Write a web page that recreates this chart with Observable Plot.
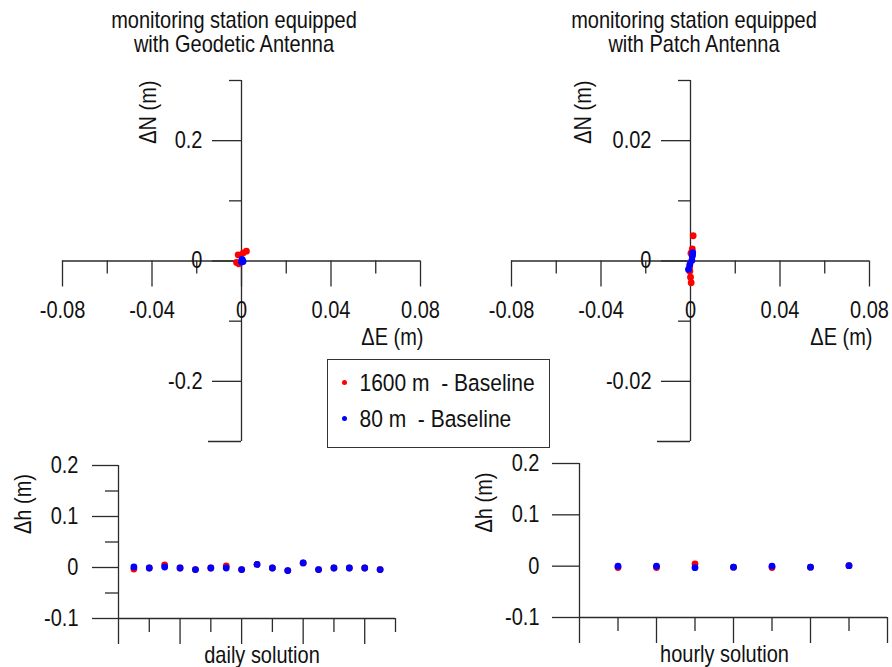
<!DOCTYPE html>
<html>
<head>
<meta charset="utf-8">
<script src="https://cdn.jsdelivr.net/npm/d3@7"></script>
<script src="https://cdn.jsdelivr.net/npm/@observablehq/plot@0.6"></script>
<style>
html, body { margin: 0; padding: 0; background: #fff; }
#root { position: relative; width: 892px; height: 667px; overflow: hidden; font-family: "Liberation Sans", Arial, sans-serif; color: #111; }
.title { position: absolute; width: 400px; text-align: center; font-size: 20px; line-height: 21px; white-space: pre; transform: scaleY(1.17); transform-origin: 50% 0; }
#legend { position: absolute; left: 327px; top: 359px; width: 223px; height: 89px; box-sizing: border-box; border: 1.5px solid #333; background: #fff; }
.lg-dot { position: absolute; width: 5px; height: 5px; border-radius: 50%; }
.lg-txt { position: absolute; font-size: 21px; line-height: 24px; white-space: pre; transform: scaleY(1.17); transform-origin: 0 50%; }
</style>
</head>
<body>
<div id="root"></div>
<script>
// ---------- data ----------
const panelTitles = ["monitoring station equipped\nwith Geodetic Antenna", "monitoring station equipped\nwith Patch Antenna"];
const seriesNames = ["1600 m  - Baseline", "80 m  - Baseline"];

// top-left: Geodetic antenna, ΔE / ΔN (m)
const geoE1600 = [0.0022, 0.0008, -0.0015, -0.0022, -0.0012];
const geoN1600 = [0.0163, 0.0136, 0.0103, -0.0025, -0.0046];
const geoE80 = [0.0002, 0.0007, 0.0000, 0.0004];
const geoN80 = [0.0025, -0.0010, -0.0017, 0.0017];

// top-right: Patch antenna, ΔE / ΔN (m)
const patchE1600 = [0.0012, 0.0008, 0.0002, -0.0004, -0.0003, 0.0000, 0.0003];
const patchN1600 = [0.0042, 0.0020, 0.0013, -0.0010, -0.0017, -0.0027, -0.0036];
const patchE80 = [0.0010, 0.0009, 0.0008, 0.0006, -0.0003, -0.0009];
const patchN80 = [0.0014, 0.0011, 0.0008, 0.0001, -0.0006, -0.0014];

// bottom-left: daily solution Δh (m)
const dayIndex = [1, 2, 3, 4, 5, 6, 7, 8, 9, 10, 11, 12, 13, 14, 15, 16, 17];
const daily1600 = [-0.003, -0.001, 0.005, -0.001, -0.004, -0.001, 0.003, -0.004, 0.006, -0.001, -0.006, 0.009, -0.004, -0.001, -0.001, -0.001, -0.004];
const daily80 = [0.001, -0.001, 0.001, -0.001, -0.004, -0.001, -0.001, -0.004, 0.006, -0.001, -0.006, 0.009, -0.004, -0.001, -0.001, -0.001, -0.004];

// bottom-right: hourly solution Δh (m)
const hourIndex = [1, 2, 3, 4, 5, 6, 7];
const hourly1600 = [-0.0026, -0.0026, 0.0045, -0.002, -0.0026, -0.002, 0.001];
const hourly80 = [0.000, 0.000, -0.003, -0.002, 0.000, -0.002, 0.001];

// ticks
const enuXMajor = [-0.08, -0.04, 0, 0.04, 0.08];
const enuXLabels = ["-0.08", "-0.04", "0", "0.04", "0.08"];
const enuXMinor = [-0.06, -0.02, 0.02, 0.06];
const geoYMajor = [0.2, 0, -0.2];
const geoYLabels = ["0.2", "0", "-0.2"];
const geoYMinor = [0.3, 0.1, -0.1];
const geoYEnd = [-0.3];
const patchYMajor = [0.02, 0, -0.02];
const patchYLabels = ["0.02", "0", "-0.02"];
const patchYMinor = [0.03, 0.01, -0.01];
const patchYEnd = [-0.03];
const hYMajor = [0.2, 0.1, 0, -0.1];
const hYLabels = ["0.2", "0.1", "0", "-0.1"];
const hYMinorDaily = [0.15, 0.05, -0.05];
const dayXMajor = [0, 4, 8, 12, 16];
const dayXMinor = [2, 6, 10, 14, 18];
const hourXMajor = [0, 2, 4, 6, 8];
const hourXMinor = [1, 3, 5, 7];

// ---------- styles ----------
const RED = "#ff0000", BLUE = "#0000ff", AX = "#2b2b2b", TX = "#111";
const FS = 20, SW = 1.3, STRETCH = 1.17;
const FONT = "'Liberation Sans', Arial, sans-serif";
const seriesColors = [RED, BLUE];

const root = document.getElementById("root");

function tickX(values, yAt, len) {
  return Plot.ruleX(values, {x: d => d, y1: () => yAt, y2: () => yAt, insetBottom: -len, stroke: AX, strokeWidth: SW});
}
function tickY(values, xAt, len) {
  return Plot.ruleY(values, {y: d => d, x1: () => xAt, x2: () => xAt, insetLeft: -len, stroke: AX, strokeWidth: SW});
}
function txt(data, opts) {
  return Plot.text(data, {fontSize: FS, fill: TX, fontFamily: FONT, ...opts});
}
function dots(xs, ys, color) {
  return Plot.dot(d3.range(xs.length), {x: i => xs[i], y: i => ys[i], r: 3.4, fill: color, stroke: "none"});
}
function place(svg, left, top) {
  svg.style.position = "absolute";
  svg.style.left = left + "px";
  svg.style.top = top + "px";
  svg.querySelectorAll("text").forEach(t => {
    const tr = t.getAttribute("transform");
    if (tr && tr.includes("translate")) t.setAttribute("transform", tr + ` scale(1,${STRETCH})`);
  });
  root.appendChild(svg);
}
const svgStyle = `background: transparent; overflow: visible; font-family: ${FONT}; font-size: 20px;`;

function crossPanel({left, mL, mR, yDomain, yMajor, yLabels, yMinor, yEnd, e1, n1, e2, n2, nDx}) {
  const svg = Plot.plot({
    width: 446, height: 460,
    marginLeft: mL, marginRight: mR, marginTop: 80, marginBottom: 19,
    style: svgStyle,
    x: {domain: [-0.08, 0.08], axis: null},
    y: {domain: yDomain, axis: null},
    marks: [
      Plot.ruleY([0], {stroke: AX, strokeWidth: SW}),
      Plot.ruleX([0], {stroke: AX, strokeWidth: SW}),
      tickX(enuXMajor, 0, 26),
      tickX(enuXMinor, 0, 13),
      tickY(yMajor, 0, 29),
      tickY(yMinor, 0, 12),
      tickY(yEnd, 0, 33),
      txt(enuXMajor, {x: d => d, y: () => 0, text: (d, i) => enuXLabels[i], dy: 50}),
      txt(yMajor, {x: () => 0, y: d => d, text: (d, i) => yLabels[i], textAnchor: "end", dx: -39}),
      txt(["ΔE (m)"], {x: () => 0.08, y: () => 0, textAnchor: "end", dx: 3, dy: 77}),
      txt(["ΔN (m)"], {x: () => 0, y: () => yDomain[1], rotate: -90, textAnchor: "end", dx: nDx}),
      dots(e1, n1, RED),
      dots(e2, n2, BLUE)
    ]
  });
  place(svg, left, 0);
}

crossPanel({left: 0, mL: 62, mR: 26, yDomain: [-0.3, 0.3], yMajor: geoYMajor, yLabels: geoYLabels, yMinor: geoYMinor, yEnd: geoYEnd,
  e1: geoE1600, n1: geoN1600, e2: geoE80, n2: geoN80, nDx: -93});
crossPanel({left: 446, mL: 65, mR: 23, yDomain: [-0.03, 0.03], yMajor: patchYMajor, yLabels: patchYLabels, yMinor: patchYMinor, yEnd: patchYEnd,
  e1: patchE1600, n1: patchN1600, e2: patchE80, n2: patchN80, nDx: -107});

function heightPanel({left, mL, mR, mT, mB, xMax, xMajor, xMinor, yMinor, yTickLen, idx, v1, v2, label, labelDx}) {
  const svg = Plot.plot({
    width: 446, height: 227,
    marginLeft: mL, marginRight: mR, marginTop: mT, marginBottom: mB,
    style: svgStyle,
    x: {domain: [0, xMax], axis: null},
    y: {domain: [-0.1, 0.2], axis: null},
    marks: [
      Plot.ruleY([-0.1], {stroke: AX, strokeWidth: SW}),
      Plot.ruleX([0], {stroke: AX, strokeWidth: SW}),
      tickX(xMajor, -0.1, 26),
      tickX(xMinor, -0.1, 14),
      tickY(hYMajor, 0, yTickLen),
      tickY(yMinor, 0, 13),
      txt(hYMajor, {x: () => 0, y: d => d, text: (d, i) => hYLabels[i], textAnchor: "end", dx: -40}),
      txt(["Δh (m)"], {frameAnchor: "left", rotate: -90, dx: -95, dy: -8}),
      txt([label], {frameAnchor: "bottom", dy: 44, dx: labelDx}),
      dots(idx, v1, RED),
      dots(idx, v2, BLUE)
    ]
  });
  place(svg, left, 440);
}

heightPanel({left: 0, mL: 118, mR: 51, mT: 25, mB: 49, xMax: 18, xMajor: dayXMajor, xMinor: dayXMinor, yMinor: hYMinorDaily, yTickLen: 26,
  idx: dayIndex, v1: daily1600, v2: daily80, label: "daily solution", labelDx: 5});
heightPanel({left: 446, mL: 133, mR: 5, mT: 23, mB: 50, xMax: 8, xMajor: hourXMajor, xMinor: hourXMinor, yMinor: [], yTickLen: 27,
  idx: hourIndex, v1: hourly1600, v2: hourly80, label: "hourly solution", labelDx: -9});

// ---------- titles ----------
[234, 694].forEach((cx, k) => {
  const d = document.createElement("div");
  d.className = "title";
  d.style.left = (cx - 200) + "px";
  d.style.top = "8px";
  d.textContent = panelTitles[k];
  root.appendChild(d);
});

// ---------- legend ----------
const legend = document.createElement("div");
legend.id = "legend";
seriesNames.forEach((name, k) => {
  const cy = 22.5 + k * 36;
  const dot = document.createElement("div");
  dot.className = "lg-dot";
  dot.style.background = seriesColors[k];
  dot.style.left = (16.5 - 2.5) + "px";
  dot.style.top = (cy - 2.5) + "px";
  legend.appendChild(dot);
  const t = document.createElement("div");
  t.className = "lg-txt";
  t.style.left = "31.5px";
  t.style.top = (cy - 12) + "px";
  t.textContent = name;
  legend.appendChild(t);
});
root.appendChild(legend);
</script>
</body>
</html>
